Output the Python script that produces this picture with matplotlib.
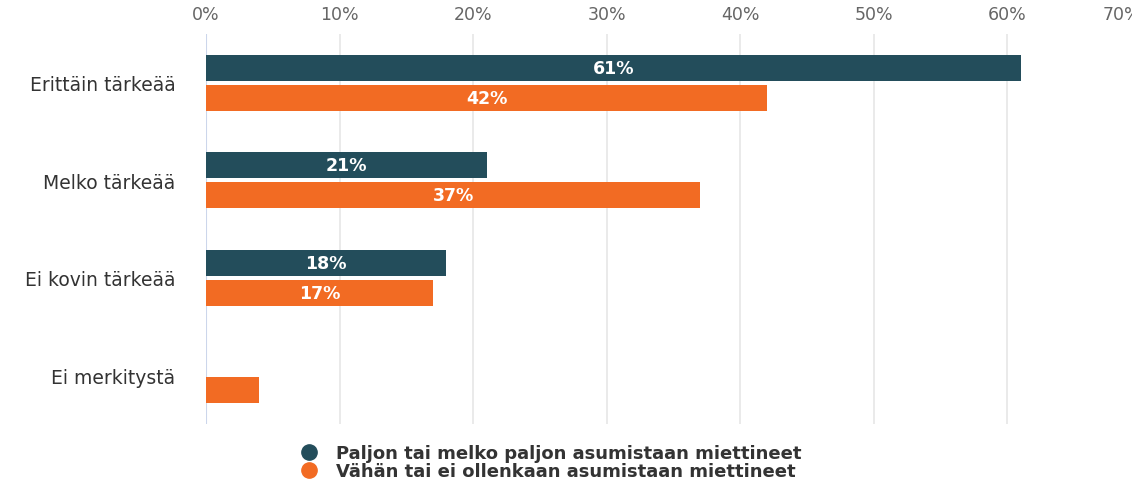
import matplotlib.pyplot as plt
from matplotlib.lines import Line2D
from matplotlib.transforms import ScaledTranslation

plt.rcParams['font.family'] = ['DejaVu Sans']

# data
categories = ["Erittäin tärkeää", "Melko tärkeää", "Ei kovin tärkeää", "Ei merkitystä"]
paljon = [61, 21, 18, 0]
vahan = [42, 37, 17, 4]
series_names = ["Paljon tai melko paljon asumistaan miettineet",
                "Vähän tai ei ollenkaan asumistaan miettineet"]
xticks = [0, 10, 20, 30, 40, 50, 60, 70]

dark = "#234d5b"
orange = "#f26b23"

W, H = 1132, 481
fig = plt.figure(figsize=(W / 100, H / 100), dpi=100)
ax = fig.add_axes([206 / W, 1 - 425 / H, (1141 - 206) / W, 390 / H])

pos = list(range(len(categories)))
h = 0.265
off = 0.153
b1 = ax.barh([p - off for p in pos], paljon, height=h, color=dark, zorder=3)
b2 = ax.barh([p + off for p in pos], vahan, height=h, color=orange, zorder=3)

# labels inside bars (skip tiny ones)
for bars, vals in ((b1, paljon), (b2, vahan)):
    for bar, v in zip(bars, vals):
        if v >= 10:
            ax.text(v / 2, bar.get_y() + bar.get_height() / 2, f"{v}%",
                    ha="center", va="center", color="white", fontsize=12.5,
                    fontweight="semibold")

ax.set_xlim(0, 70)
ax.set_ylim(3.5, -0.5)
ax.set_xticks(xticks)
ax.set_xticklabels([f"{t}%" for t in xticks])
ax.xaxis.tick_top()
ax.tick_params(axis="x", length=0, pad=8, labelsize=12.5, labelcolor="#666666")
ax.set_yticks(pos)
ax.set_yticklabels(categories)
ax.tick_params(axis="y", length=0, pad=22, labelsize=13.5, labelcolor="#333333")

# last tick label pulled inside like the original
last = ax.get_xticklabels()[-1]
last.set_ha("right")

for t in xticks[1:]:
    ax.axvline(t, color="#e6e6e6", lw=1.2, zorder=1)
ax.axvline(0, color="#ccd6eb", lw=1.5, zorder=2)
for s in ax.spines.values():
    s.set_visible(False)

handles = [Line2D([], [], marker="o", ls="", color=c, markersize=11)
           for c in (dark, orange)]
fig.legend(handles, series_names, loc="center left",
           bbox_to_anchor=(282 / W, 1 - 463 / H), frameon=False,
           handletextpad=0.5, labelspacing=-0.02, borderpad=0,
           prop={"size": 13, "weight": "bold"}, labelcolor="#333333")

fig.savefig("out.png", dpi=100)
